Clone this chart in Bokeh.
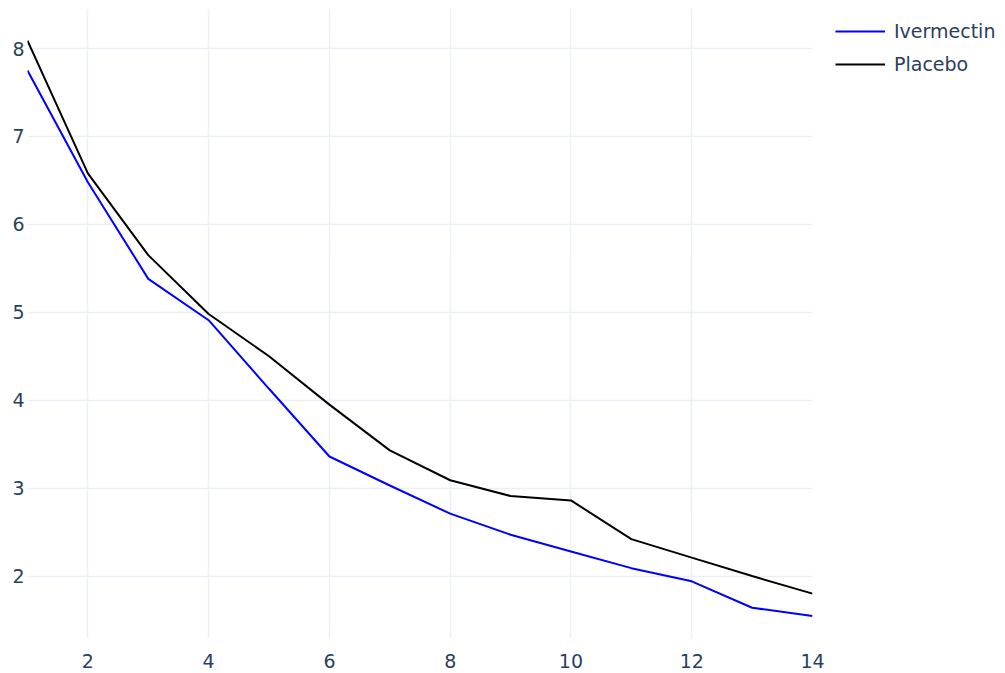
from bokeh.plotting import figure
from bokeh.models import Legend, LegendItem, FixedTicker, Range1d, ColumnDataSource
from bokeh.embed import file_html
from bokeh.resources import INLINE

days = list(range(1, 15))
ivermectin = [7.75, 6.48, 5.38, 4.91, 4.13, 3.36, 3.03, 2.71, 2.47, 2.28, 2.09, 1.94, 1.64, 1.545]
placebo = [8.09, 6.58, 5.65, 4.98, 4.50, 3.95, 3.43, 3.09, 2.91, 2.86, 2.42, 2.21, 2.00, 1.80]
x_ticks = [2, 4, 6, 8, 10, 12, 14]
y_ticks = [2, 3, 4, 5, 6, 7, 8]

FONT = "DejaVu Sans"
TXT = "#2a3f5f"
GRID = "#ebf0f8"

src = ColumnDataSource(dict(day=days, iver=ivermectin, plac=placebo))

FH = 630
p = figure(
    frame_width=785, frame_height=FH,
    min_border_left=27, min_border_top=8, min_border_right=177, min_border_bottom=0,
    x_range=Range1d(1, 14), y_range=Range1d(1.29, 8.455),
    output_backend="svg", toolbar_location=None,
    background_fill_color="white", border_fill_color="white",
)
p.outline_line_color = None

r1 = p.line("day", "iver", source=src, line_color="#0000ff", line_width=2)
r2 = p.line("day", "plac", source=src, line_color="#000000", line_width=2)

for ax, ticks in ((p.xaxis[0], x_ticks), (p.yaxis[0], y_ticks)):
    ax.ticker = FixedTicker(ticks=ticks)
    ax.axis_line_color = None
    ax.major_tick_line_color = None
    ax.minor_tick_line_color = None
    ax.major_label_text_font = FONT
    ax.major_label_text_font_size = "19px"
    ax.major_label_text_color = TXT
p.xaxis[0].major_label_standoff = 9
p.yaxis[0].major_label_standoff = -3

p.xgrid[0].ticker = FixedTicker(ticks=x_ticks)
p.ygrid[0].ticker = FixedTicker(ticks=y_ticks)
p.xgrid[0].grid_line_color = GRID
p.ygrid[0].grid_line_color = GRID
p.xgrid[0].grid_line_width = 1.5
p.ygrid[0].grid_line_width = 1.5

legend = Legend(
    items=[LegendItem(label="Ivermectin", renderers=[r1]),
           LegendItem(label="Placebo", renderers=[r2])],
    location=(23, FH - 67),
    padding=0, margin=0, spacing=11,
    glyph_width=50, glyph_height=20, label_height=20, label_standoff=9,
    label_text_font=FONT, label_text_font_size="19px", label_text_color=TXT,
    border_line_alpha=0, background_fill_alpha=0,
)
p.add_layout(legend, "right")

open("out.html", "w").write(file_html(p, INLINE))
